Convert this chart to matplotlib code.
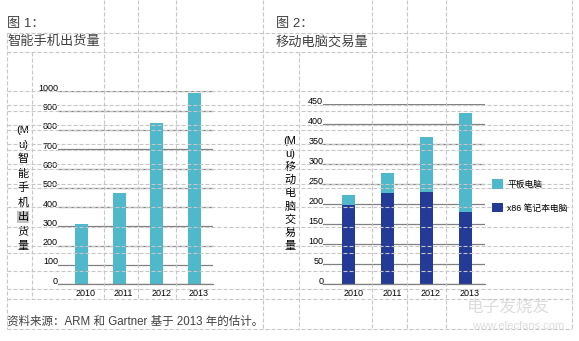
import matplotlib
matplotlib.use("Agg")
import matplotlib.pyplot as plt
import matplotlib.transforms as mtransforms
from matplotlib.lines import Line2D

plt.rcParams['font.family'] = ['Liberation Sans', 'Noto Sans CJK SC', 'DejaVu Sans']

# data
years = ['2010', '2011', '2012', '2013']
phone_shipments = [310, 475, 835, 990]
x86_notebooks = [198, 229, 231, 181]
tablets = [25, 49, 137, 247]
phone_ticks = list(range(0, 1001, 100))
pc_ticks = list(range(0, 451, 50))

TEAL = '#4fb8cb'
NAVY = '#233a97'
GRID = '#808080'
SHEET = '#c6c6c6'
TEXT = '#404040'

W, H = 579, 341
fig = plt.figure(figsize=(W / 100, H / 100), dpi=100)


def fx(x):
    return x / W


def fy(y):
    return 1 - y / H


def box(x0, y0, x1, y1):
    return [fx(x0), fy(y1), (x1 - x0) / W, (y1 - y0) / H]


def style_axes(ax, ticks, top):
    ax.set_ylim(0, top)
    ax.set_yticks(ticks)
    ax.set_xticks(range(len(years)))
    ax.set_xticklabels(years)
    ax.tick_params(length=0, labelsize=6.5, pad=0)
    ax.tick_params(axis='x', pad=3.5)
    ax.yaxis.grid(True, color=GRID, lw=0.9)
    ax.set_axisbelow(True)
    for s in ['top', 'right', 'left']:
        ax.spines[s].set_visible(False)
    ax.spines['bottom'].set_color(GRID)
    ax.spines['bottom'].set_linewidth(0.9)
    up = mtransforms.ScaledTranslation(0, 0.04, fig.dpi_scale_trans)
    right = mtransforms.ScaledTranslation(0.045, 0, fig.dpi_scale_trans)
    for lab in ax.get_yticklabels():
        lab.set_transform(lab.get_transform() + up)
    for lab in ax.get_xticklabels():
        lab.set_transform(lab.get_transform() + right)


x = range(len(years))

# smartphone shipments
ax1 = fig.add_axes(box(58, 91.3, 213, 284.3))
ax1.bar(x, phone_shipments, width=0.34, color=TEAL, zorder=2)
ax1.set_xlim(-0.62, 3.49)
style_axes(ax1, phone_ticks, 1000)

# mobile PC shipments, stacked
ax2 = fig.add_axes(box(323.3, 104.3, 485, 284))
b_nb = ax2.bar(x, x86_notebooks, width=0.34, color=NAVY, zorder=2)
b_tab = ax2.bar(x, tablets, bottom=x86_notebooks, width=0.34, color=TEAL, zorder=2)
ax2.set_xlim(-0.65, 3.5)
style_axes(ax2, pc_ticks, 450)

fig.legend([b_tab, b_nb], ['平板电脑', 'x86 笔记本电脑'], loc='upper left',
           bbox_to_anchor=(fx(492.5), fy(179.5)), frameon=False, fontsize=6.3,
           handlelength=1.25, handleheight=1.25, handletextpad=0.45,
           labelspacing=1.6, borderpad=0, borderaxespad=0)

# titles
fig.text(fx(7), fy(24), '图 1：', fontsize=9.5, color=TEXT, va='center')
fig.text(fx(7), fy(42), '智能手机出货量', fontsize=9.5, color=TEXT, va='center')
fig.text(fx(276), fy(24), '图 2：', fontsize=9.5, color=TEXT, va='center')
fig.text(fx(276), fy(42), '移动电脑交易量', fontsize=9.5, color=TEXT, va='center')

# stacked vertical axis titles
rows1 = ['(M', 'u)'] + list('智能手机出货量')
for i, ch in enumerate(rows1):
    kw = {}
    if ch == '出':
        kw['bbox'] = dict(facecolor='#c2c2c2', edgecolor='none', pad=0.6)
    fig.text(fx(23), fy(130 + i * 14.5), ch, fontsize=8, ha='center', va='center', **kw)

rows2 = ['(M', 'u)'] + list('移动电脑交易量')
for i, ch in enumerate(rows2):
    fig.text(fx(290), fy(141 + i * 13.1), ch, fontsize=8, ha='center', va='center')

fig.text(fx(7), fy(321.5), '资料来源：ARM 和 Gartner 基于 2013 年的估计。',
         fontsize=8.3, color=TEXT, va='center')

# watermark
fig.text(fx(508), fy(307), '电子发烧友', fontsize=12, color='#dcdcdc',
         ha='center', va='center', style='italic')
fig.text(fx(518), fy(326), 'www.elecfans.com', fontsize=8, color='#dcdcdc',
         ha='center', va='center')

# worksheet cell borders drawn over the charts
dash = (0, (3.6, 1.8))
h_rows = [33.3, 51.5, 91.3, 105.5, 110.7, 124.5, 130, 144, 149.5, 164, 168.8,
          184, 188, 207.3, 226.7, 245.7, 253.3, 271, 289, 299.3, 329]
for y in h_rows:
    fig.add_artist(Line2D([fx(7), fx(572.3)], [fy(y), fy(y)], transform=fig.transFigure,
                          color=SHEET, lw=0.8, linestyle=dash, zorder=5))

v_cols = [(7, 33.3, 329), (31.7, 51.5, 299.3), (104.3, 0, 299.3), (138.3, 0, 299.3),
          (175.7, 0, 299.3), (263.3, 0, 329), (299.3, 51.5, 329), (372.3, 0, 329),
          (406.5, 0, 329), (446.2, 0, 329), (572.3, 0, 329)]
for xc, y0, y1 in v_cols:
    fig.add_artist(Line2D([fx(xc), fx(xc)], [fy(y0), fy(y1)], transform=fig.transFigure,
                          color=SHEET, lw=0.8, linestyle=dash, zorder=5))

fig.savefig('out.png', dpi=100)
